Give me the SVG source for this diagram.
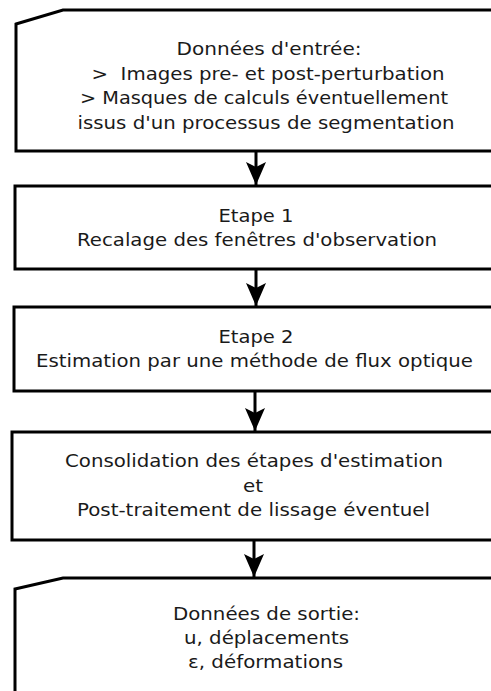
<svg xmlns="http://www.w3.org/2000/svg" width="491" height="691" viewBox="0 0 491 691">
<style>
.box{fill:#fff;stroke:#000;stroke-width:3;stroke-linejoin:miter}
.lbl{font-family:"DejaVu Sans",sans-serif;font-size:17px;fill:#1a1a1a;text-anchor:middle}
.con{stroke:#000;stroke-width:3;fill:none}
</style>
<defs>
<marker id="ah" markerUnits="userSpaceOnUse" markerWidth="26" markerHeight="24" viewBox="-24 -12 26 24" refX="0" refY="0" orient="auto">
<path d="M0,0 L-23,-10 L-18,0 L-23,10 Z" fill="#000"/>
</marker>
</defs>
<rect width="491" height="691" fill="#fff"/>
<g id="n1">
<path class="box" d="M16,24 L63,10 L500,10 L500,151 L16,151 Z"/>
<text class="lbl" x="269" y="55" textLength="185" lengthAdjust="spacingAndGlyphs">Données d'entrée:</text>
<text class="lbl" x="268" y="80" textLength="353" lengthAdjust="spacingAndGlyphs">&gt;&#160; Images pre- et post-perturbation</text>
<text class="lbl" x="264" y="104" textLength="368" lengthAdjust="spacingAndGlyphs">&gt; Masques de calculs éventuellement</text>
<text class="lbl" x="266" y="129" textLength="377" lengthAdjust="spacingAndGlyphs">issus d'un processus de segmentation</text>
</g>
<g id="n2">
<rect class="box" x="15" y="186" width="490" height="83"/>
<text class="lbl" x="256" y="222" textLength="75" lengthAdjust="spacingAndGlyphs">Etape 1</text>
<text class="lbl" x="257" y="246" textLength="360" lengthAdjust="spacingAndGlyphs">Recalage des fenêtres d'observation</text>
</g>
<g id="n3">
<rect class="box" x="14" y="307" width="490" height="84"/>
<text class="lbl" x="256" y="343" textLength="75" lengthAdjust="spacingAndGlyphs">Etape 2</text>
<text class="lbl" x="254.5" y="367" textLength="437" lengthAdjust="spacingAndGlyphs">Estimation par une méthode de flux optique</text>
</g>
<g id="n4">
<rect class="box" x="12" y="432" width="490" height="108"/>
<text class="lbl" x="254" y="467" textLength="378" lengthAdjust="spacingAndGlyphs">Consolidation des étapes d'estimation</text>
<text class="lbl" x="253" y="492" textLength="20" lengthAdjust="spacingAndGlyphs">et</text>
<text class="lbl" x="253.5" y="516" textLength="353" lengthAdjust="spacingAndGlyphs">Post-traitement de lissage éventuel</text>
</g>
<g id="n5">
<path class="box" d="M15,589 L63,578 L500,578 L500,700 L15,700 Z"/>
<text class="lbl" x="266.5" y="620" textLength="187" lengthAdjust="spacingAndGlyphs">Données de sortie:</text>
<text class="lbl" x="266.5" y="644" textLength="165" lengthAdjust="spacingAndGlyphs">u, déplacements</text>
<text class="lbl" x="265.5" y="668" textLength="155" lengthAdjust="spacingAndGlyphs">ε, déformations</text>
</g>
<g id="connectors">
<line class="con" x1="256" y1="151" x2="256" y2="185" marker-end="url(#ah)"/>
<line class="con" x1="256" y1="269" x2="256" y2="306" marker-end="url(#ah)"/>
<line class="con" x1="255" y1="391" x2="255" y2="431" marker-end="url(#ah)"/>
<line class="con" x1="254" y1="540" x2="254" y2="577" marker-end="url(#ah)"/>
</g>
</svg>
